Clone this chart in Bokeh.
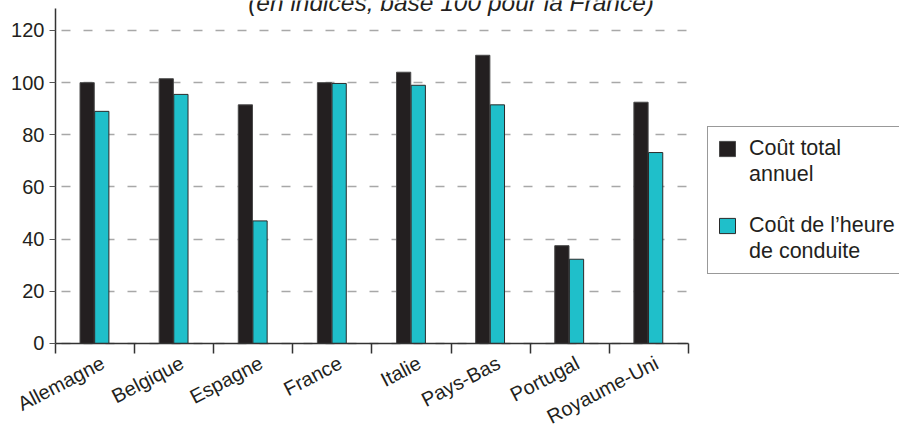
from bokeh.plotting import figure
from bokeh.models import (ColumnDataSource, FixedTicker, Legend, LegendItem,
                          Label, Range1d)
from bokeh.embed import file_html
from bokeh.resources import INLINE

# Country categories and the two cost indices (base 100 = France)
countries = ["Allemagne", "Belgique", "Espagne", "France", "Italie",
             "Pays-Bas", "Portugal", "Royaume-Uni"]
cout_total_annuel = [100, 101.5, 91.5, 100, 104, 110.5, 37.5, 92.5]
cout_heure_conduite = [89, 95.5, 47, 99.7, 99, 91.5, 32.3, 73.2]
y_ticks = [0, 20, 40, 60, 80, 100, 120]

FONT = "Liberation Sans"
INK = "#231f20"
CYAN = "#1fbfca"
N = len(countries)

pos = [i + 0.5 for i in range(N)]
src = ColumnDataSource(dict(
    x_total=[p - 0.1 for p in pos],
    x_heure=[p + 0.085 for p in pos],
    total=cout_total_annuel,
    heure=cout_heure_conduite,
))

# The plotting area spans the whole canvas; the ranges leave room for the
# slanted country names below, the tick labels at left and the legend at right.
p = figure(width=899, height=430, output_backend="svg", toolbar_location=None,
           x_range=Range1d(-0.695, 10.667), y_range=Range1d(-33.36, 131.5),
           min_border=0, outline_line_color=None)

r_total = p.vbar(x="x_total", top="total", width=0.18, source=src,
                 fill_color=INK, line_color="#4a4a4a", line_width=1)
r_heure = p.vbar(x="x_heure", top="heure", width=0.18, source=src,
                 fill_color=CYAN, line_color="#2a2a2a", line_width=1)
# glyph-less renderer for the second line of each legend entry
r_none = p.vbar(x=[], top=[], width=0.1, fill_alpha=0, line_alpha=0)

# x axis pinned at y = 0: slanted names ending just right of each country's
# centre, visible ticks on the boundaries between countries
label_at = [x + 0.1 for x in pos]
xa = p.xaxis[0]
xa.fixed_location = 0
xa.bounds = (0, N)
xa.ticker = FixedTicker(ticks=label_at, minor_ticks=list(range(N + 1)))
xa.major_label_overrides = {x: c for x, c in zip(label_at, countries)}
xa.major_tick_line_color = None
xa.major_tick_out = 6
xa.major_tick_in = 0
xa.minor_tick_out = 10
xa.minor_tick_in = 0
xa.minor_tick_line_color = "#333333"
xa.minor_tick_line_width = 1.5
xa.major_label_orientation = 0.48
xa.major_label_standoff = 8
xa.major_label_text_font = FONT
xa.major_label_text_font_size = "20px"
xa.major_label_text_color = INK
xa.axis_line_color = "#333333"
xa.axis_line_width = 1.5

# y axis pinned at x = 0
ya = p.yaxis[0]
ya.fixed_location = 0
ya.bounds = (0, 128.4)
ya.ticker = FixedTicker(ticks=y_ticks)
ya.minor_tick_line_color = None
ya.major_tick_out = 6
ya.major_tick_in = 0
ya.major_tick_line_color = "#555555"
ya.major_label_text_font = FONT
ya.major_label_text_font_size = "20px"
ya.major_label_text_color = INK
ya.major_label_standoff = 5
ya.axis_line_color = "#333333"
ya.axis_line_width = 1.5

p.xgrid.grid_line_color = None
p.ygrid.ticker = FixedTicker(ticks=y_ticks)
p.ygrid.cross_bounds = (0, N)
p.ygrid.grid_line_color = "#a8a8a8"
p.ygrid.grid_line_width = 1.5
p.ygrid.grid_line_dash = "9 13"
p.ygrid.grid_line_dash_offset = 16

p.add_layout(Label(x=5.0, y=130.7, text="(en indices, base 100 pour la France)",
                   text_align="center", text_baseline="alphabetic",
                   text_font=FONT, text_font_style="italic",
                   text_font_size="24.5px", text_color=INK))

legend = Legend(items=[
    LegendItem(label="Coût total", renderers=[r_total]),
    LegendItem(label="annuel", renderers=[r_none]),
    LegendItem(label=" ", renderers=[r_none]),
    LegendItem(label="Coût de l’heure", renderers=[r_heure]),
    LegendItem(label="de conduite", renderers=[r_none]),
], location=(707, 156), orientation="vertical",
    border_line_color="#333333", border_line_width=1.5,
    background_fill_color="white", background_fill_alpha=1,
    label_text_font=FONT, label_text_font_size="21.5px", label_text_color=INK,
    glyph_width=20, glyph_height=19, label_standoff=12, label_width=170,
    label_height=24, padding=9, spacing=1, margin=0)
p.add_layout(legend, "center")

open("out.html", "w").write(file_html(p, INLINE))
